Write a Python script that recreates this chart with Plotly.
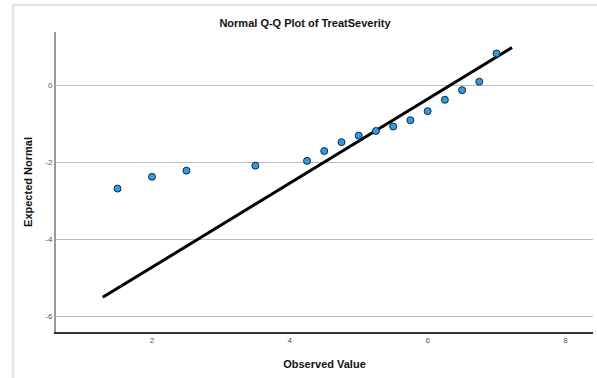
import plotly.graph_objects as go

observed = [1.5, 2.0, 2.5, 3.5, 4.25, 4.5, 4.75, 5.0, 5.25, 5.5, 5.75, 6.0, 6.25, 6.5, 6.75, 7.0]
expected = [-2.675, -2.37, -2.21, -2.08, -1.956, -1.70, -1.47, -1.30, -1.18, -1.065, -0.90, -0.665, -0.37, -0.12, 0.10, 0.83]

# Reference line end points
line_x = [1.285, 7.225]
line_y = [-5.50, 0.987]

x_ticks = [2, 4, 6, 8]
y_ticks = [0, -2, -4, -6]

W, H = 597, 378
L, R, T, B = 56, 4, 32, 46

fig = go.Figure()
fig.add_trace(go.Scatter(x=line_x, y=line_y, mode="lines",
                         line=dict(color="#000000", width=3), hoverinfo="skip"))
fig.add_trace(go.Scatter(x=observed, y=expected, mode="markers",
                         marker=dict(size=7, color="#2a9de8",
                                     line=dict(color="#1a2530", width=1))))

font_fam = "Liberation Sans, Arial, sans-serif"
fig.update_layout(
    width=W, height=H,
    margin=dict(l=L, r=R, t=T, b=B),
    paper_bgcolor="white", plot_bgcolor="white",
    showlegend=False,
    font=dict(family=font_fam, color="#222"),
    title=dict(text="<b>Normal Q-Q Plot of TreatSeverity</b>",
               x=305 / W, xanchor="center", xref="container",
               y=1 - 23 / H, yanchor="middle", yref="container",
               font=dict(size=11, family=font_fam, color="#111")),
    xaxis=dict(range=[0.607, 8.40], tickvals=x_ticks, ticktext=[str(v) for v in x_ticks],
               showgrid=False, zeroline=False, showline=True,
               linecolor="#333333", linewidth=1.5, ticks="",
               tickfont=dict(size=8, color="#555"),
               title=dict(text="<b>Observed Value</b>", standoff=16,
                          font=dict(size=11, family=font_fam, color="#111"))),
    yaxis=dict(range=[-6.40, 1.39], tickvals=y_ticks, ticktext=[str(v) for v in y_ticks],
               showgrid=True, gridcolor="#bdbdbd", gridwidth=1,
               zeroline=False, showline=True,
               linecolor="#999999", linewidth=2, ticks="",
               tickfont=dict(size=8, color="#555"),
               title=dict(text="<b>Expected Normal</b>", standoff=10,
                          font=dict(size=11, family=font_fam, color="#111"))),
    shapes=[
        dict(type="line", xref="paper", yref="paper",
             x0=(12 - L) / (W - L - R), x1=(597 - L) / (W - L - R),
             y0=1 + (T - 5) / (H - T - B), y1=1 + (T - 5) / (H - T - B),
             line=dict(color="#ebe7dc", width=2.5)),
        dict(type="line", xref="paper", yref="paper",
             x0=(13 - L) / (W - L - R), x1=(13 - L) / (W - L - R),
             y0=-(B) / (H - T - B), y1=1 + (T - 5) / (H - T - B),
             line=dict(color="#ebe7dc", width=2.5)),
    ],
)

fig.write_html("out.html")
